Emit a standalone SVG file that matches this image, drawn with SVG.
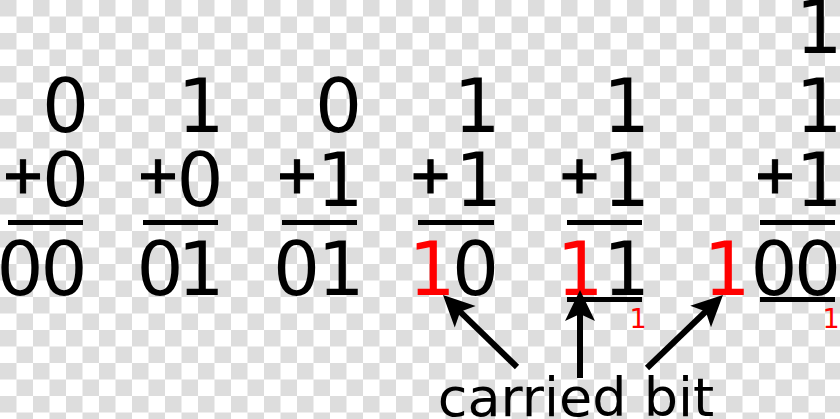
<svg xmlns="http://www.w3.org/2000/svg" width="840" height="419" viewBox="0 0 840 419">
<defs>
<pattern id="chk" width="33" height="33" patternUnits="userSpaceOnUse">
<rect width="33" height="33" fill="#ffffff"/>
<rect width="16.5" height="16.5" fill="#dddddd"/>
<rect x="16.5" y="16.5" width="16.5" height="16.5" fill="#dddddd"/>
</pattern>
<marker id="ah" markerUnits="userSpaceOnUse" orient="auto" refX="0" refY="0" markerWidth="40" markerHeight="40" overflow="visible">
<path d="M13,0 L-18,-15 L-11,0 L-18,15 Z" fill="#000"/>
</marker>
<style>
.d{font-family:"DejaVu Sans",Verdana,sans-serif;font-size:74px;text-anchor:middle;fill:#000}
.p{font-family:"DejaVu Sans Mono",monospace;font-size:64px;text-anchor:middle;fill:#000;stroke:#000;stroke-width:1}
.r{fill:#ff0000}
.s{font-family:"DejaVu Sans",Verdana,sans-serif;font-size:27px;text-anchor:middle;fill:#ff0000}
.lbl{font-family:"DejaVu Sans",Verdana,sans-serif;font-size:54px;text-anchor:middle;fill:#000}
.bar{fill:#000}
.arr{stroke:#000;stroke-width:6;fill:none;marker-end:url(#ah)}
</style>
</defs>
<rect width="840" height="419" fill="url(#chk)"/>

<g id="col1">
<text class="d" x="65.5" y="132">0</text>
<text class="p" x="23" y="197">+</text>
<text class="d" x="65.5" y="206">0</text>
<rect class="bar" x="8" y="220" width="75" height="5"/>
<text class="d" x="20" y="295">0</text>
<text class="d" x="64" y="295">0</text>
</g>

<g id="col2">
<text class="d" x="201" y="132">1</text>
<text class="p" x="158" y="197">+</text>
<text class="d" x="200" y="206">0</text>
<rect class="bar" x="143" y="220" width="75" height="5"/>
<text class="d" x="160" y="295">0</text>
<text class="d" x="201" y="295">1</text>
</g>

<g id="col3">
<text class="d" x="338.5" y="132">0</text>
<text class="p" x="297" y="197">+</text>
<text class="d" x="340" y="206">1</text>
<rect class="bar" x="282" y="220" width="75" height="5"/>
<text class="d" x="296.5" y="295">0</text>
<text class="d" x="341" y="295">1</text>
</g>

<g id="col4">
<text class="d" x="477" y="132">1</text>
<text class="p" x="430.5" y="197">+</text>
<text class="d" x="478.5" y="206">1</text>
<rect class="bar" x="418" y="220" width="76" height="5"/>
<text class="d r" x="432" y="295">1</text>
<text class="d" x="475.5" y="295">0</text>
</g>

<g id="col5">
<text class="d" x="626.5" y="132">1</text>
<text class="p" x="579.5" y="197">+</text>
<text class="d" x="626.5" y="206">1</text>
<rect class="bar" x="567" y="220" width="75" height="5"/>
<text class="d r" x="580" y="295">1</text>
<text class="d" x="626.5" y="295">1</text>
<rect class="bar" x="567" y="297" width="75" height="5"/>
<text class="s" x="638" y="328">1</text>
</g>

<g id="col6">
<text class="d" x="819" y="53">1</text>
<text class="d" x="819" y="132">1</text>
<text class="p" x="775" y="197">+</text>
<text class="d" x="819" y="206">1</text>
<rect class="bar" x="760" y="220" width="75" height="5"/>
<text class="d r" x="727" y="295">1</text>
<text class="d" x="774" y="295">0</text>
<text class="d" x="817.5" y="295">0</text>
<rect class="bar" x="760" y="297" width="75" height="5"/>
<text class="s" x="831" y="328">1</text>
</g>

<g id="label">
<text class="lbl" x="576" y="416">carried bit</text>
</g>

<g id="connectors">
<line class="arr" x1="517" y1="367" x2="452.3" y2="304.1"/>
<line class="arr" x1="580" y1="378" x2="580" y2="303"/>
<line class="arr" x1="647" y1="368" x2="713.6" y2="304"/>
</g>
</svg>
